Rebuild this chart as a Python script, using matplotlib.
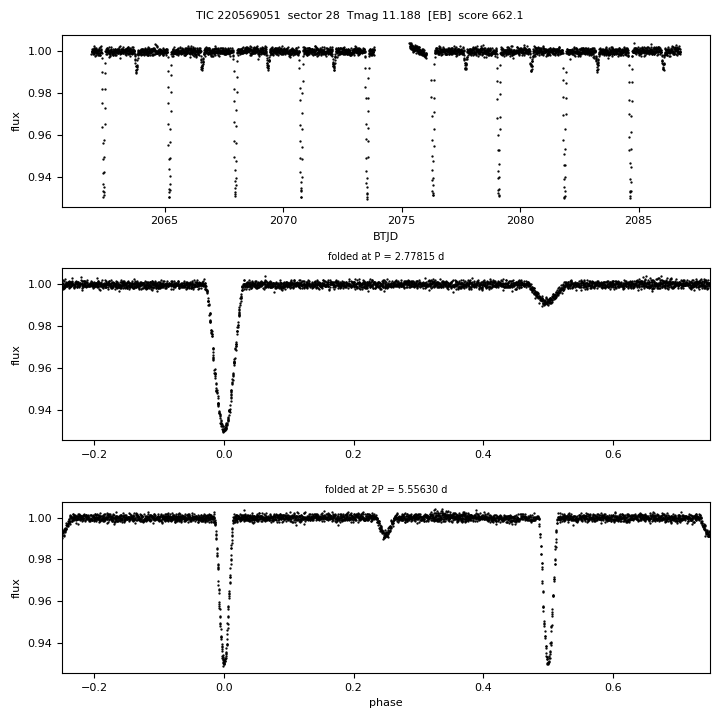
import numpy as np
import matplotlib
matplotlib.use('Agg')
import matplotlib.pyplot as plt

TITLE = "TIC 220569051  sector 28  Tmag 11.188  [EB]  score 662.1"
PERIOD = 2.77815
T0 = 2062.42
CADENCE = 10.0 / 1440.0

SEGMENTS = [(2061.91, 2073.85), (2075.33, 2076.05), (2076.25, 2086.77)]

# primary eclipse profile (phase, flux)
PRIM_PHASE = [-0.030, -0.026, -0.023, -0.0206, -0.018, -0.0154, -0.0129, -0.0103,
              -0.0077, -0.0051, -0.0026, 0.0, 0.0026, 0.0051, 0.0077, 0.0103,
              0.0129, 0.0154, 0.018, 0.0206, 0.023, 0.0257, 0.028, 0.031]
PRIM_FLUX = [1.000, 0.996, 0.989, 0.980, 0.973, 0.961, 0.954, 0.946,
             0.940, 0.935, 0.931, 0.9295, 0.931, 0.9336, 0.938, 0.946,
             0.953, 0.962, 0.969, 0.978, 0.986, 0.993, 0.998, 1.000]

# secondary eclipse profile
SEC_PHASE = [0.470, 0.480, 0.489, 0.497, 0.505, 0.512, 0.520, 0.527]
SEC_FLUX = [1.000, 0.9960, 0.9930, 0.9915, 0.9925, 0.9950, 0.9980, 1.000]

# small ramp at the start of the second orbit
RAMP_T = [2075.33, 2075.70, 2076.05]
RAMP_DF = [0.0025, 0.0005, -0.0020]

SCATTER = 0.001

YLIM = (0.9256, 1.0076)


def build_lightcurve():
    t = np.concatenate([np.arange(a, b, CADENCE) for a, b in SEGMENTS])
    ph = ((t - T0) / PERIOD + 0.5) % 1 - 0.5
    f = np.interp(ph, PRIM_PHASE, PRIM_FLUX, left=1.0, right=1.0)
    ph2 = ((t - T0) / PERIOD) % 1
    f = f - (1.0 - np.interp(ph2, SEC_PHASE, SEC_FLUX, left=1.0, right=1.0))
    f = f + np.interp(t, RAMP_T, RAMP_DF, left=0.0, right=0.0)
    # photometric scatter (not recoverable point by point from the image)
    rng = np.random.default_rng(28)
    f = f + rng.normal(0, SCATTER, t.size)
    return t, f


def fold(t, period):
    return ((t - T0) / period + 0.25) % 1 - 0.25


def main():
    t, f = build_lightcurve()
    plt.rcParams['font.size'] = 8

    fig, axes = plt.subplots(3, 1, figsize=(7.2, 7.2), dpi=100)
    fig.subplots_adjust(left=0.086, right=0.986, top=0.951, bottom=0.065, hspace=0.36)
    fig.suptitle(TITLE, fontsize=8, y=0.985)

    ax = axes[0]
    ax.plot(t, f, '.', color='k', ms=1.3)
    ax.set_xlabel("BTJD")
    ax.set_ylabel("flux")
    ax.set_ylim(*YLIM)

    ax = axes[1]
    ax.plot(fold(t, PERIOD), f, '.', color='k', ms=1.3)
    ax.set_title("folded at P = {:.5f} d".format(PERIOD), fontsize=7)
    ax.set_ylabel("flux")
    ax.set_xlim(-0.25, 0.75)
    ax.set_ylim(*YLIM)

    ax = axes[2]
    ax.plot(fold(t, 2 * PERIOD), f, '.', color='k', ms=1.3)
    ax.set_title("folded at 2P = {:.5f} d".format(2 * PERIOD), fontsize=7)
    ax.set_xlabel("phase")
    ax.set_ylabel("flux")
    ax.set_xlim(-0.25, 0.75)
    ax.set_ylim(*YLIM)

    for ax in axes:
        ax.yaxis.set_major_formatter(matplotlib.ticker.FormatStrFormatter('%.2f'))

    fig.savefig("out.png", dpi=100)


if __name__ == "__main__":
    main()
